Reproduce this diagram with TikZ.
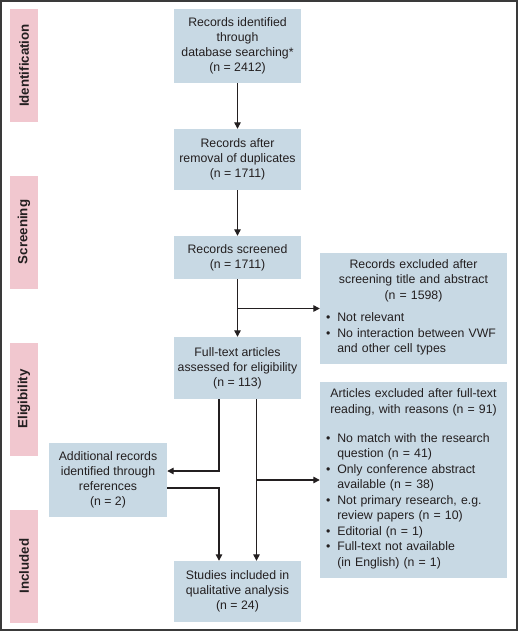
\documentclass[tikz,border=0pt]{standalone}
\usepackage{fontspec}
\setmainfont{Liberation Sans}
\usetikzlibrary{arrows.meta}
\definecolor{boxblue}{HTML}{C8D9E4}
\definecolor{labpink}{HTML}{F1C7CF}
\definecolor{txt}{HTML}{231F20}
\definecolor{framec}{HTML}{3A3A3A}
\tikzset{
  box/.style={fill=boxblue, draw=none, align=center, inner sep=0pt, text=txt,
    font=\fontsize{12.3}{15}\selectfont},
  exbox/.style={fill=boxblue, draw=none, inner xsep=6pt, inner ysep=0pt, text width=175pt, text=txt,
    font=\fontsize{12.3}{15.5}\selectfont},
  phase/.style={fill=labpink, draw=none, rotate=90, inner sep=0pt, text=txt,
    minimum width=113pt, minimum height=27.5pt, font=\bfseries\fontsize{13.3}{15}\selectfont},
  conn/.style={draw=txt, line width=1.3pt},
  arr/.style={conn, -{Triangle[length=6.5pt,width=6.5pt]}}
}
\begin{document}
\begin{tikzpicture}[x=1pt,y=-1pt]
\useasboundingbox (0,0) rectangle (520,632);
\draw[framec, line width=1.5pt] (1,1) rectangle (517,630);
% phase labels
\node[phase] (pid) at (24,65.5) {Identification};
\node[phase] (psc) at (24,232) {Screening};
\node[phase] (pel) at (24,399) {Eligibility};
\node[phase] (pin) at (24,566) {Included};
% main column
\node[box, minimum width=127pt, minimum height=74pt] (b1) at (237.5,46)
  {Records identified\\through\\database searching*\\(n = 2412)};
\node[box, minimum width=127pt, minimum height=61pt] (b2) at (237.5,159.5)
  {Records after\\removal of duplicates\\(n = 1711)};
\node[box, minimum width=127pt, minimum height=43pt] (b3) at (237.5,257.5)
  {Records screened\\(n = 1711)};
\node[box, minimum width=127pt, minimum height=62pt] (b4) at (237.5,368)
  {Full-text articles\\assessed for eligibility\\(n = 113)};
\node[box, minimum width=127pt, minimum height=61pt] (b5) at (237.5,591.5)
  {Studies included in\\qualitative analysis\\(n = 24)};
\node[box, minimum width=118pt, minimum height=74pt] (add) at (108,480)
  {Additional records\\identified through\\references\\(n = 2)};
% exclusion boxes
\node[exbox, minimum height=111pt] (ex1) at (413.5,308.5)
  {\centering Records excluded after\\screening title and abstract\\(n = 1598)\par
   \vspace{7pt}\raggedright\noindent
   \begin{tabular}[t]{@{}l@{\hspace{7pt}}l@{}}
   \textbullet & Not relevant\\
   \textbullet & No interaction between VWF\\
   & and other cell types
   \end{tabular}\par};
\node[exbox, minimum height=196pt] (ex2) at (413.5,480)
  {\centering Articles excluded after full-text\\reading, with reasons (n = 91)\par
   \vspace{13.5pt}\raggedright\noindent
   \begin{tabular}[t]{@{}l@{\hspace{7pt}}l@{}}
   \textbullet & No match with the research\\
   & question (n = 41)\\
   \textbullet & Only conference abstract\\
   & available (n = 38)\\
   \textbullet & Not primary research, e.g.\\
   & review papers (n = 10)\\
   \textbullet & Editorial (n = 1)\\
   \textbullet & Full-text not available\\
   & (in English) (n = 1)
   \end{tabular}\par};
% connectors
\draw[arr] (b1) -- (b2);
\draw[arr] (b2) -- (b3);
\draw[arr] (b3) -- (b4);
\coordinate (j1) at (b3.south |- ex1.west);
\draw[arr] (j1) -- (ex1.west);
\coordinate (bl) at ([xshift=-18.5pt]b4.south);
\coordinate (br) at ([xshift=19pt]b4.south);
\coordinate (addin) at ([yshift=9pt]add.east);
\coordinate (addout) at ([yshift=-8pt]add.east);
\draw[arr] (bl) |- (addin);
\draw[arr] (br) -- (br |- b5.north);
\draw[arr] (br |- ex2.west) -- (ex2.west);
\draw[arr] (addout) -| (bl |- b5.north);
\end{tikzpicture}
\end{document}
